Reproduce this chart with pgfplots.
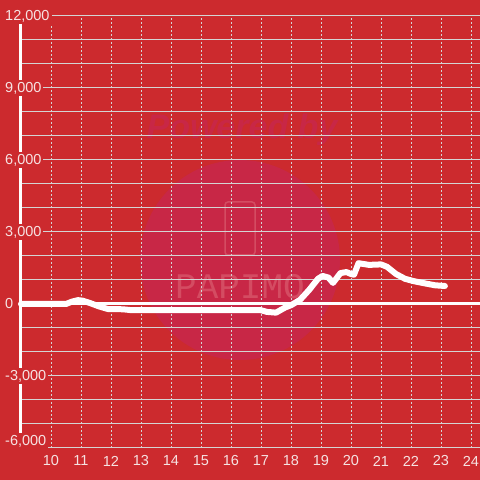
\documentclass[border=0pt]{standalone}
\usepackage{fontspec}
\setmainfont{Liberation Sans}
\newfontfamily\monof{Liberation Mono}
\usepackage{pgfplots}
\pgfplotsset{compat=1.18}
\definecolor{bg}{RGB}{204,42,46}
\definecolor{wm}{RGB}{200,39,70}
\definecolor{wmt}{RGB}{212,76,98}
\definecolor{gridc}{RGB}{212,212,212}
\definecolor{lab}{RGB}{246,226,226}
\begin{document}
\begin{tikzpicture}[x=1pt,y=1pt]
\useasboundingbox (0,0) rectangle (480,480);
\fill[bg] (0,0) rectangle (480,480);
\fill[wm] (240,220) circle (100);
\node[text=wm, font=\bfseries\itshape\fontsize{34}{34}\selectfont] at (242,350) {Powered by};
\draw[wmt, line width=1.5pt, rounded corners=3pt] (225,225) rectangle (255,278);
\node[text=wmt, font=\monof\fontsize{36}{36}\selectfont] at (240,193) {PAPIMO};
\begin{axis}[
  at={(21pt,32pt)}, anchor=south west,
  scale only axis, width=459pt, height=432pt,
  xmin=9, xmax=24.3, ymin=-6000, ymax=12000,
  axis y line*=left, axis x line*=bottom,
  x axis line style={draw=none},
  y axis line style={-, white, line width=3pt},
  major tick length=0pt, minor tick length=0pt,
  xtick={10,...,24},
  xticklabels={10,11,12,13,14,15,16,17,18,19,20,21,22,23,24},
  ytick={-3000,0,3000,6000,9000,12000},
  yticklabels={{-3,000},0,{3,000},{6,000},{9,000},{12,000}},
  extra y ticks={-6000},
  extra y tick labels={-6{,}000},
  extra y tick style={yticklabel style={yshift=7pt}},
  minor ytick={-5000,-4000,-2000,-1000,1000,2000,4000,5000,7000,8000,10000,11000},
  scaled y ticks=false,
  xmajorgrids=true, ymajorgrids=true, yminorgrids=true,
  x grid style={gridc, line width=0.9pt, dash pattern=on 2pt off 2pt},
  y grid style={gridc, line width=1pt},
  xticklabel style={anchor=center, yshift=-13pt, text=lab, font=\fontsize{14.5}{15}\selectfont},
  yticklabel style={anchor=west, xshift=-18pt, fill=bg, inner sep=2pt, text=lab, font=\fontsize{14.5}{15}\selectfont},
  clip=false,
]
\addplot[white, line width=3pt] coordinates {(9,0) (24.3,0)};
\addplot[white, line width=6pt, line join=round, line cap=round] coordinates {
(9.0,0) (10.5,0) (10.7,100) (10.9,160) (11.05,140) (11.3,40) (11.6,-100) (11.9,-210)
(12.4,-220) (12.7,-260) (17.0,-260) (17.2,-330) (17.5,-360) (17.8,-150) (18.0,-50)
(18.3,170) (18.6,580) (18.9,1050) (19.05,1170) (19.25,1100) (19.4,880) (19.65,1290)
(19.85,1330) (20.0,1250) (20.1,1220) (20.25,1700) (20.6,1630) (21.0,1650) (21.2,1550)
(21.5,1250) (21.8,1050) (22.1,950) (22.5,850) (22.8,780) (23.13,750)
};
\end{axis}
\end{tikzpicture}
\end{document}
